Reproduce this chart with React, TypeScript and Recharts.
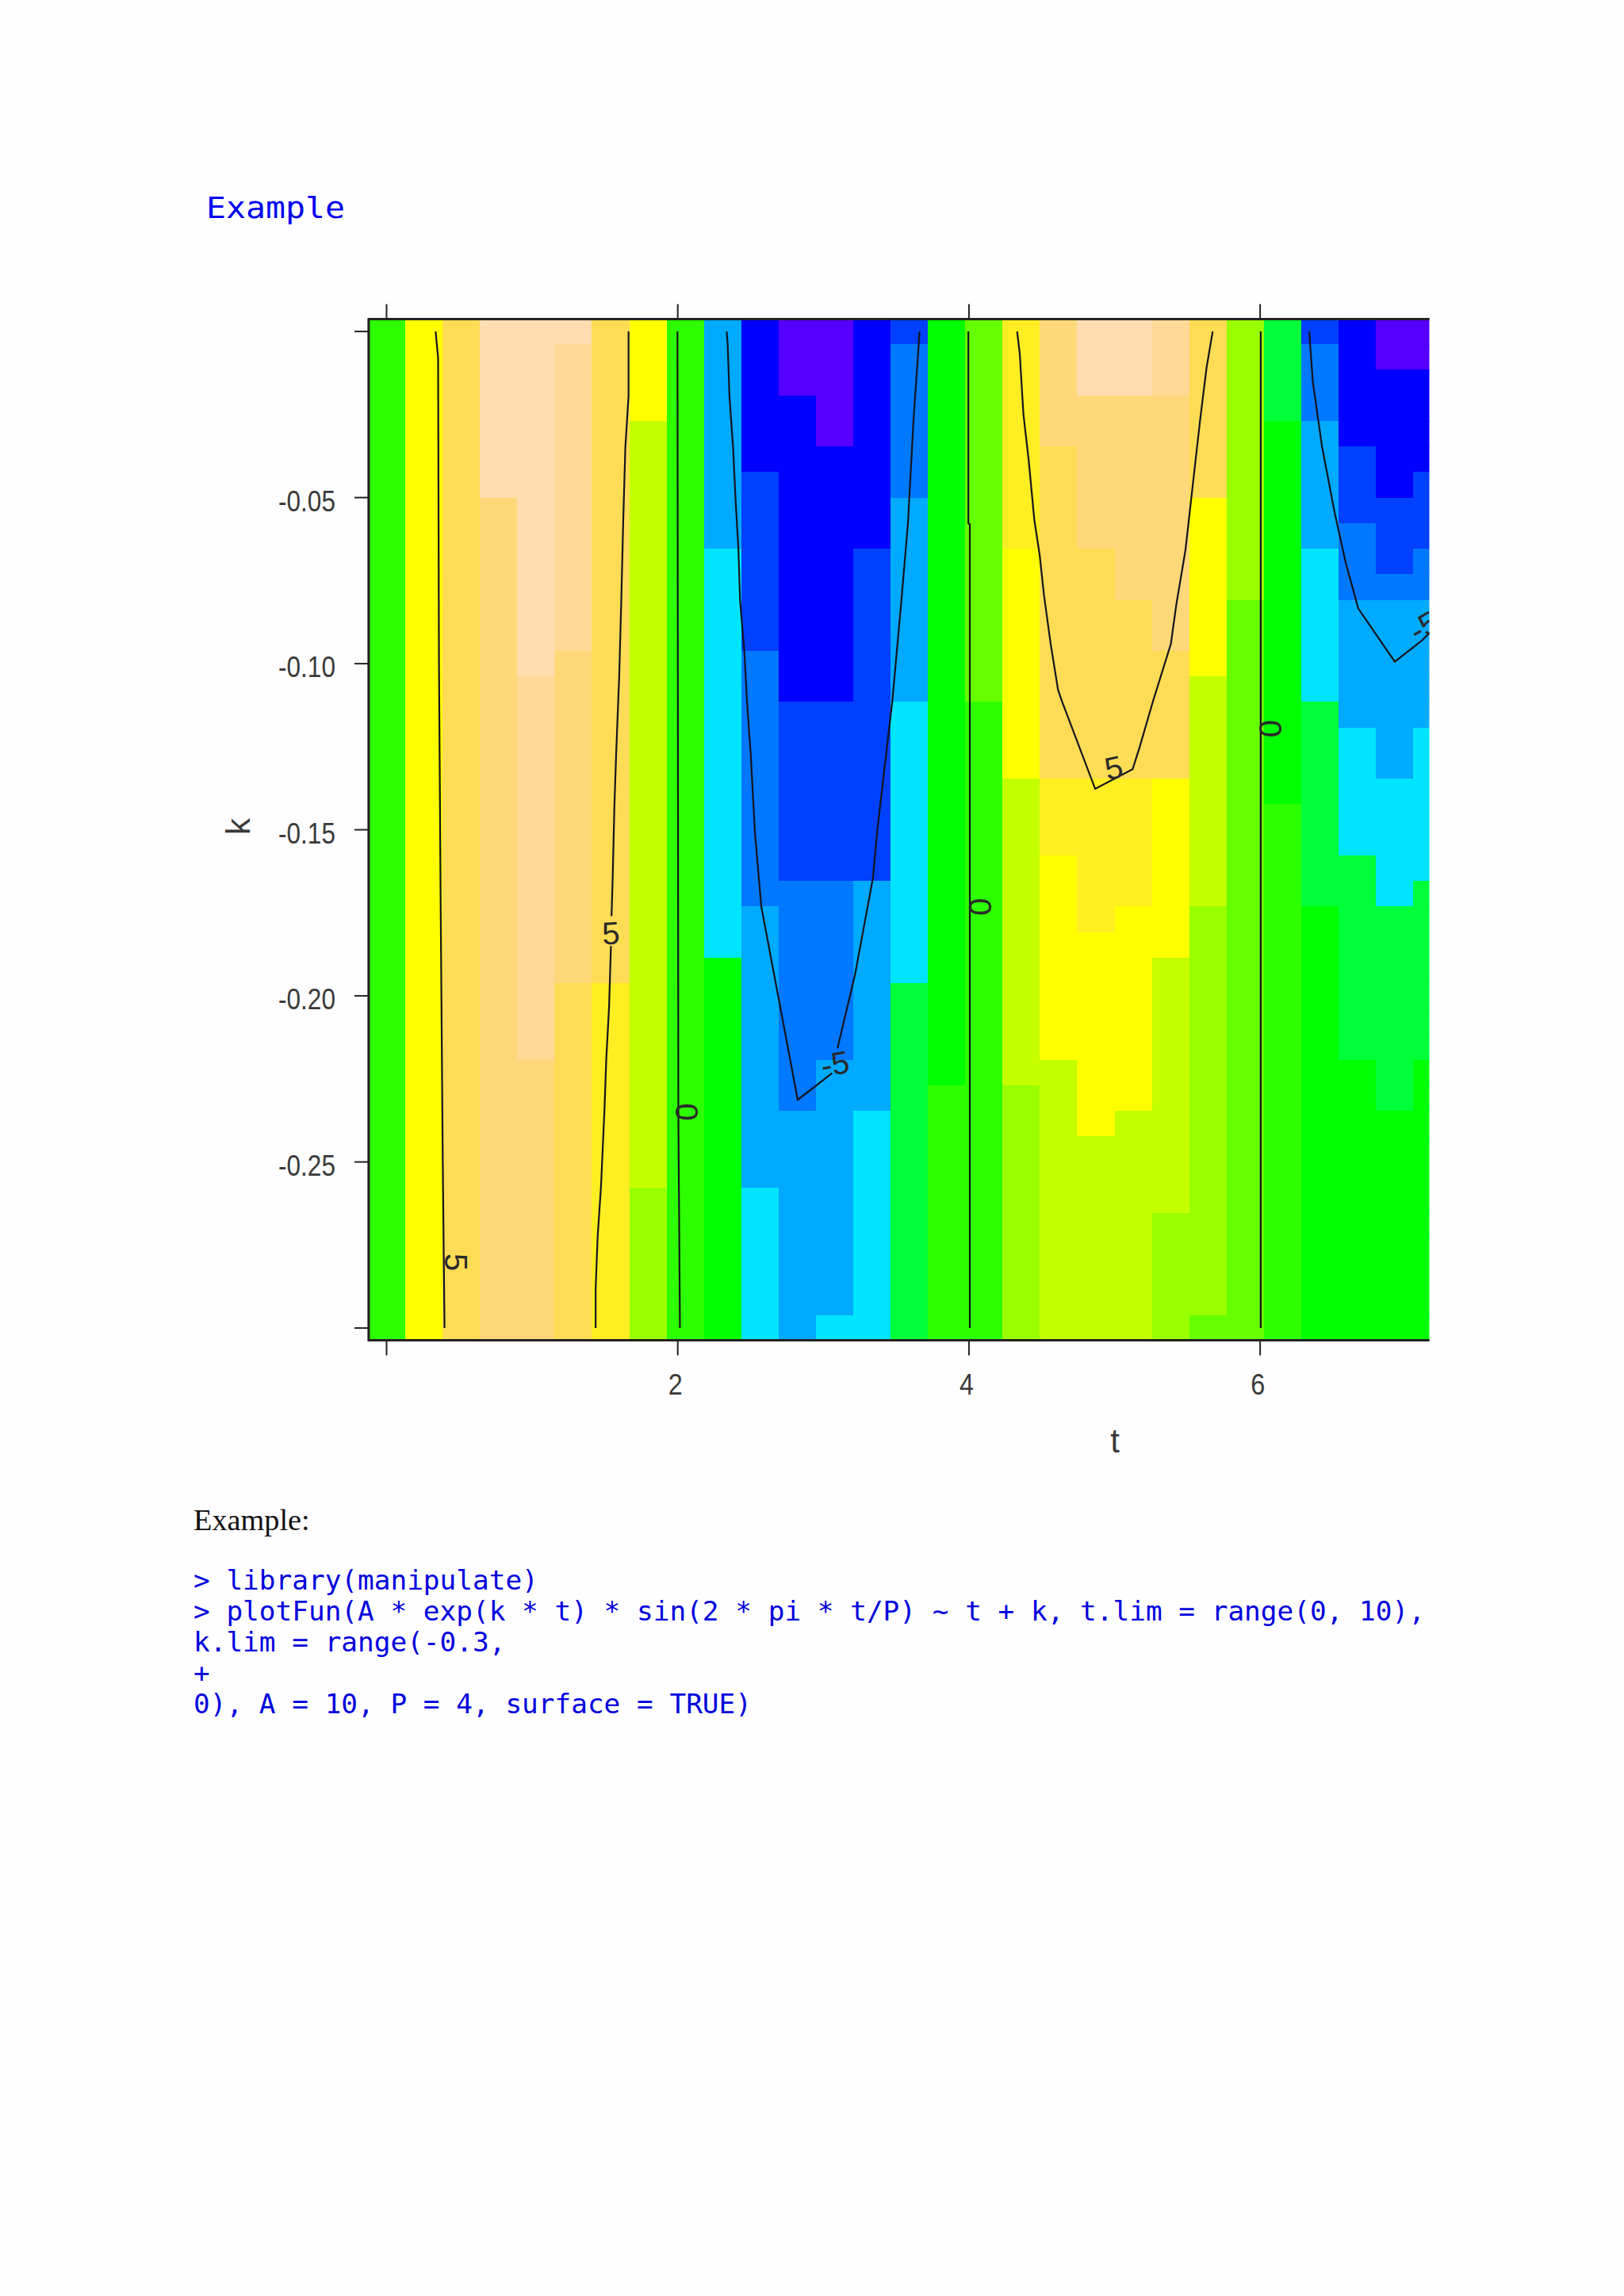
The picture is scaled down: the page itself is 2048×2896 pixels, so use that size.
import React from "react";
import { ScatterChart, Scatter, XAxis, YAxis } from "recharts";

// ---- grid axes of the surface (t and k of each cell's centre) ----
const T_STEP = 10 / 39;
const K_STEP = 0.3 / 39;
const T_DOMAIN: [number, number] = [-0.1225, 7.162];
const K_DOMAIN: [number, number] = [-0.3037, 0.0037];
const T_TICKS = [0, 2, 4, 6];
const K_TICKS = [-0.3, -0.25, -0.2, -0.15, -0.1, -0.05, 0];
const T_LABELS: Record<number, string> = { 2: "2", 4: "4", 6: "6" };
const K_LABELS: Record<string, string> = {
  "-0.25": "-0.25",
  "-0.2": "-0.20",
  "-0.15": "-0.15",
  "-0.1": "-0.10",
  "-0.05": "-0.05",
};

// ---- colour bands of the surface, low to high ----
const bandColors = [
  "#5500FF", "#0000FF", "#0040FF", "#0078FF", "#00AAFF", "#00E5FF",
  "#00FF38", "#00FF00", "#2EFF00", "#66FF00", "#99FF00", "#C4FF00",
  "#FFFF00", "#FFEE22", "#FFDC55", "#FFD87A", "#FFD998", "#FFDDB0",
];

// ---- band per column, top to bottom, as [band, rows] ----
const col00 = [[8, 40]];
const col01 = [[12, 40]];
const col02 = [[14, 40]];
const col03 = [[17, 7], [15, 33]];
const col04 = [[17, 14], [16, 15], [15, 11]];
const col05 = [[17, 1], [16, 12], [15, 13], [14, 14]];
const col06 = [[14, 26], [13, 14]];
const col07 = [[12, 4], [11, 30], [10, 6]];
const col08 = [[8, 40]];
const col09 = [[4, 9], [5, 16], [7, 15]];
const col10 = [[1, 6], [2, 7], [3, 10], [4, 11], [5, 6]];
const col11 = [[0, 3], [1, 12], [2, 7], [3, 9], [4, 9]];
const col12 = [[0, 5], [1, 10], [2, 7], [3, 7], [4, 10], [5, 1]];
const col13 = [[1, 9], [2, 13], [4, 9], [5, 9]];
const col14 = [[2, 1], [3, 6], [4, 8], [5, 11], [6, 14]];
const col15 = [[7, 30], [8, 10]];
const col16 = [[9, 15], [8, 25]];
const col17 = [[13, 9], [12, 9], [11, 12], [10, 10]];
const col18 = [[15, 5], [14, 13], [13, 3], [12, 8], [11, 11]];
const col19 = [[17, 3], [15, 6], [14, 9], [13, 6], [12, 8], [11, 8]];
const col20 = [[17, 3], [15, 8], [14, 7], [13, 5], [12, 8], [11, 9]];
const col21 = [[16, 3], [15, 10], [14, 5], [12, 7], [11, 10], [10, 5]];
const col22 = [[14, 7], [12, 7], [11, 9], [10, 16], [9, 1]];
const col23 = [[10, 11], [9, 29]];
const col24 = [[6, 4], [7, 15], [8, 21]];
const col25 = [[2, 1], [3, 3], [4, 5], [5, 6], [6, 8], [7, 17]];
const col26 = [[1, 5], [2, 3], [3, 3], [4, 5], [5, 5], [6, 8], [7, 11]];
const col27 = [[0, 2], [1, 5], [2, 3], [3, 1], [4, 7], [5, 5], [6, 8], [7, 9]];
const col28 = [[0, 2], [1, 4], [2, 3], [3, 2], [4, 5], [5, 6], [6, 7], [7, 11]];
const columns = [
  col00, col01, col02, col03, col04, col05, col06, col07, col08, col09,
  col10, col11, col12, col13, col14, col15, col16, col17, col18, col19,
  col20, col21, col22, col23, col24, col25, col26, col27, col28,
];

// ---- contour lines, as [t, k] ----
const contourA = [[0.337, 0], [0.354, -0.008], [0.36, -0.1], [0.372, -0.175], [0.386, -0.25], [0.398, -0.3]];
const contourB1 = [[1.662, 0], [1.662, -0.0195], [1.64, -0.0349], [1.625, -0.0578], [1.612, -0.0812], [1.598, -0.1036], [1.577, -0.1271], [1.565, -0.1425], [1.553, -0.1647], [1.545, -0.176]];
const contourB2 = [[1.541, -0.185], [1.528, -0.2036], [1.509, -0.219], [1.497, -0.2339], [1.473, -0.2573], [1.45, -0.2723], [1.436, -0.2883], [1.436, -0.3]];
const contourC = [[1.998, 0], [2.004, -0.235], [2.015, -0.3]];
const contourD1 = [[2.336, 0], [2.343, -0.004], [2.355, -0.0195], [2.38, -0.0349], [2.396, -0.0498], [2.416, -0.065], [2.428, -0.081], [2.457, -0.0962], [2.476, -0.1116], [2.501, -0.1271], [2.53, -0.1508], [2.574, -0.1732], [2.824, -0.2313], [3.06, -0.2233]];
const contourD2 = [[3.097, -0.2158], [3.218, -0.1935], [3.34, -0.1647], [3.371, -0.15], [3.474, -0.1111], [3.536, -0.081], [3.581, -0.0578], [3.619, -0.0269], [3.661, 0]];
const contourE = [[3.996, 0], [3.996, -0.0578], [4.006, -0.058], [4.006, -0.3]];
const contourF = [[4.331, 0], [4.349, -0.0067], [4.374, -0.0248], [4.411, -0.0391], [4.449, -0.0567], [4.486, -0.0674], [4.516, -0.0796], [4.561, -0.094], [4.612, -0.1079], [4.637, -0.1111], [4.867, -0.1377], [5.124, -0.1318], [5.174, -0.1249], [5.262, -0.1116], [5.387, -0.094], [5.424, -0.0823], [5.487, -0.0658], [5.524, -0.0514], [5.587, -0.0269], [5.632, -0.0109], [5.674, 0]];
const contourG = [[6.004, 0], [6.004, -0.3]];
const contourH = [[6.337, 0], [6.362, -0.0152], [6.424, -0.0344], [6.512, -0.0546], [6.587, -0.0695], [6.674, -0.0834], [6.925, -0.0994], [7.112, -0.093], [7.162, -0.0908]];
const contours = [contourA, contourB1, contourB2, contourC, contourD1, contourD2, contourE, contourF, contourG, contourH];

// ---- labels on the contour lines ----
const contourLabels = [
  { t: 0.477, k: -0.2802, text: "5", angle: 90 },
  { t: 1.541, k: -0.1811, text: "5", angle: -3 },
  { t: 2.063, k: -0.235, text: "0", angle: 90 },
  { t: 3.08, k: -0.2204, text: "-5", angle: -10 },
  { t: 4.074, k: -0.1732, text: "0", angle: 90 },
  { t: 4.994, k: -0.1313, text: "5", angle: -12 },
  { t: 6.069, k: -0.1196, text: "0", angle: 90 },
  { t: 7.125, k: -0.0887, text: "-5", angle: -30 },
];

// ---- page text ----
const pageTitle = "Example";
const bodyHeading = "Example:";
const codeLines = [
  "> library(manipulate)",
  "> plotFun(A * exp(k * t) * sin(2 * pi * t/P) ~ t + k, t.lim = range(0, 10),",
  "k.lim = range(-0.3,",
  "+",
  "0), A = 10, P = 4, surface = TRUE)",
];

// ---- layout ----
const PLOT_LEFT = 465;
const PLOT_RIGHT = 1802.5;
const PLOT_TOP = 402.6;
const PLOT_BOTTOM = 1690.6;
const cellW = ((PLOT_RIGHT - PLOT_LEFT) / (T_DOMAIN[1] - T_DOMAIN[0])) * T_STEP;
const cellH = ((PLOT_BOTTOM - PLOT_TOP) / (K_DOMAIN[1] - K_DOMAIN[0])) * K_STEP;
const AXIS_COLOR = "#222222";
const TEXT_COLOR = "#3a3a3a";
const SANS = "'Liberation Sans', Arial, sans-serif";
const MONO = "'DejaVu Sans Mono', monospace";

const heatCells = columns.flatMap((runs, i) => {
  const cells: { t: number; k: number; band: number }[] = [];
  let row = 0;
  runs.forEach(([band, count]) => {
    for (let n = 0; n < count; n++) {
      cells.push({ t: i * T_STEP, k: -row * K_STEP, band });
      row++;
    }
  });
  return cells;
});

const HeatCell = (props: any) => (
  <rect
    x={props.cx - cellW / 2}
    y={props.cy - cellH / 2}
    width={cellW + 0.6}
    height={cellH + 0.6}
    fill={bandColors[props.payload.band]}
    shapeRendering="crispEdges"
  />
);

const NoMark = () => <g />;

const ContourLabel = (props: any) => {
  const { cx, cy, payload } = props;
  return (
    <text
      x={cx}
      y={cy + 14}
      textAnchor="middle"
      fontFamily={SANS}
      fontSize={40}
      fill="#2a2a2a"
      transform={`rotate(${payload.angle} ${cx} ${cy})`}
    >
      {payload.text}
    </text>
  );
};

const BottomTick = (props: any) => {
  const label = T_LABELS[props.payload.value];
  if (!label) return <g />;
  return (
    <text
      x={props.x - 3}
      y={PLOT_BOTTOM + 68}
      textAnchor="middle"
      fontFamily={SANS}
      fontSize={37}
      fill={TEXT_COLOR}
      textLength={18}
      lengthAdjust="spacingAndGlyphs"
    >
      {label}
    </text>
  );
};

const LeftTick = (props: any) => {
  const label = K_LABELS[String(props.payload.value)];
  if (!label) return <g />;
  return (
    <text
      x={423 - 72}
      y={props.y + 17}
      fontFamily={SANS}
      fontSize={37}
      fill={TEXT_COLOR}
      textLength={72}
      lengthAdjust="spacingAndGlyphs"
    >
      {label}
    </text>
  );
};

const axisLine = { stroke: AXIS_COLOR, strokeWidth: 2.5 };
const tickLine = { stroke: AXIS_COLOR, strokeWidth: 2 };

export default function App() {
  return (
    <div style={{ position: "absolute", left: 0, top: 0, width: 2048, height: 2896, background: "#fefefe", overflow: "hidden" }}>
      <ScatterChart
        width={2048}
        height={2896}
        margin={{
          left: PLOT_LEFT - 60,
          right: 2048 - PLOT_RIGHT,
          top: PLOT_TOP - 40,
          bottom: 2896 - PLOT_BOTTOM - 60,
        }}
      >
        <XAxis
          xAxisId="bottom"
          type="number"
          dataKey="t"
          orientation="bottom"
          height={60}
          domain={T_DOMAIN}
          ticks={T_TICKS}
          allowDataOverflow
          interval={0}
          tickSize={19}
          axisLine={axisLine}
          tickLine={tickLine}
          tick={BottomTick}
        />
        <XAxis
          xAxisId="top"
          type="number"
          dataKey="t"
          orientation="top"
          height={40}
          domain={T_DOMAIN}
          ticks={T_TICKS}
          allowDataOverflow
          interval={0}
          tickSize={19}
          axisLine={axisLine}
          tickLine={tickLine}
          tick={NoMark}
        />
        <YAxis
          yAxisId="left"
          type="number"
          dataKey="k"
          width={60}
          domain={K_DOMAIN}
          ticks={K_TICKS}
          allowDataOverflow
          interval={0}
          tickSize={18}
          axisLine={axisLine}
          tickLine={tickLine}
          tick={LeftTick}
        />
        <Scatter
          xAxisId="bottom"
          yAxisId="left"
          data={heatCells}
          shape={HeatCell}
          isAnimationActive={false}
        />
        {contours.map((line, i) => (
          <Scatter
            key={i}
            xAxisId="bottom"
            yAxisId="left"
            data={line.map(([t, k]) => ({ t, k }))}
            line={{ stroke: "#15151f", strokeWidth: 2.2 }}
            lineType="joint"
            shape={NoMark}
            isAnimationActive={false}
          />
        ))}
        <Scatter
          xAxisId="bottom"
          yAxisId="left"
          data={contourLabels}
          shape={ContourLabel}
          isAnimationActive={false}
        />
      </ScatterChart>
      <svg width={2048} height={2896} style={{ position: "absolute", left: 0, top: 0, pointerEvents: "none" }}>
        <path
          d={`M${PLOT_RIGHT} ${PLOT_TOP}H${PLOT_LEFT}V${PLOT_BOTTOM}H${PLOT_RIGHT}`}
          fill="none"
          stroke={AXIS_COLOR}
          strokeWidth={3}
        />
        <text x={260} y={275} fontFamily={MONO} fontSize={38} fill="#0000f0" textLength={175} lengthAdjust="spacingAndGlyphs">
          {pageTitle}
        </text>
        <text x={315} y={1053} fontFamily={SANS} fontSize={42} fill={TEXT_COLOR} transform="rotate(-90 315 1053)">
          k
        </text>
        <text x={1406} y={1832} textAnchor="middle" fontFamily={SANS} fontSize={42} fill={TEXT_COLOR}>
          t
        </text>
        <text x={244} y={1930} fontFamily="'Liberation Serif', serif" fontSize={38.3} fill="#111111">
          {bodyHeading}
        </text>
        {codeLines.map((line, i) => (
          <text key={i} x={244} y={2005 + i * 39} fontFamily={MONO} fontSize={34.4} fill="#0000dd" xmlSpace="preserve">
            {line}
          </text>
        ))}
      </svg>
    </div>
  );
}
